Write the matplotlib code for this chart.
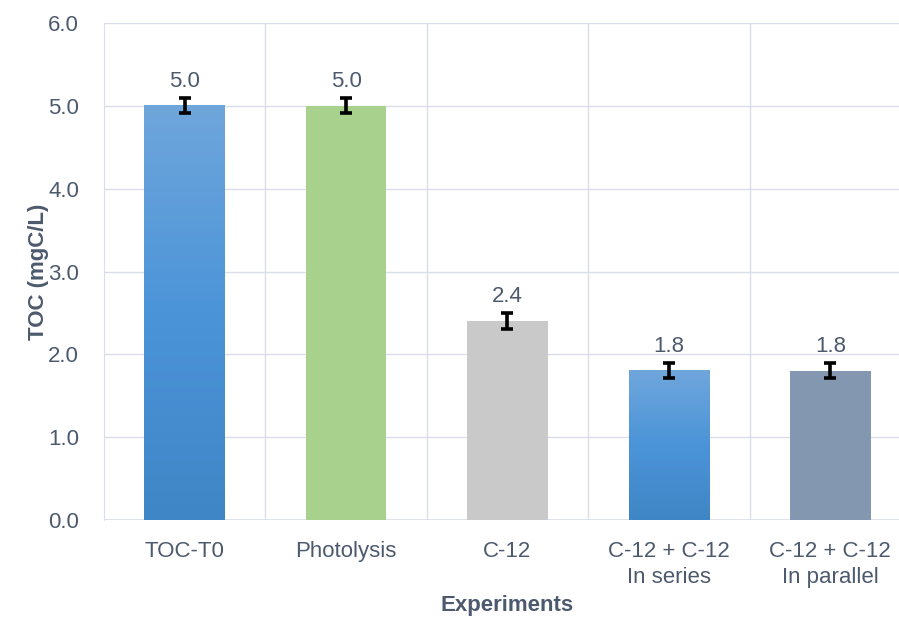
import matplotlib
matplotlib.use("Agg")
import matplotlib.pyplot as plt
import numpy as np
from matplotlib.colors import LinearSegmentedColormap

categories = ["TOC-T0", "Photolysis", "C-12", "C-12 + C-12\nIn series", "C-12 + C-12\nIn parallel"]
toc = [5.0, 5.0, 2.4, 1.8, 1.8]
err = [0.09, 0.09, 0.1, 0.09, 0.09]
labels = ["5.0", "5.0", "2.4", "1.8", "1.8"]

plt.rcParams["font.family"] = ["Liberation Sans", "DejaVu Sans"]
TXT = "#4d5a6e"
GRID = "#d9dee8"
FS = 16

fig = plt.figure(figsize=(8.99, 6.25), dpi=100)
ax = fig.add_axes([104 / 899, 1 - 520 / 625, (911 - 104) / 899, (520 - 23) / 625])

x = np.arange(len(categories))
w = 0.5
fills = ["grad", "#a9d18e", "#c9c9c9", "grad", "#8497b0"]
blue = LinearSegmentedColormap.from_list("b", ["#3f86c6", "#4b94d8", "#6fa6dc"])
grad = np.linspace(0, 1, 256).reshape(-1, 1)

for i, (v, f) in enumerate(zip(toc, fills)):
    if f == "grad":
        ax.imshow(grad, extent=(x[i] - w / 2, x[i] + w / 2, 0, v), origin="lower",
                  aspect="auto", cmap=blue, zorder=2)
    else:
        ax.bar(x[i], v, width=w, color=f, zorder=2)
    ax.text(x[i], v + 0.17, labels[i], ha="center", va="bottom", fontsize=FS, color=TXT, zorder=4)

ax.errorbar(x, toc, yerr=err, fmt="none", ecolor="black", elinewidth=2.6,
            capsize=4.5, capthick=2.6, zorder=3)

ax.set_xlim(-0.5, len(categories) - 0.5)
ax.set_ylim(0, 6)
ax.set_yticks(np.arange(0, 7, 1))
ax.set_yticklabels([f"{t:.1f}" for t in range(7)])
ax.set_xticks(x)
ax.set_xticklabels(categories, linespacing=1.3)
for xb in np.arange(0.5, len(categories) - 0.5, 1):
    ax.axvline(xb, color=GRID, lw=1, zorder=0)
ax.yaxis.grid(True, color=GRID, lw=1, zorder=0)
ax.set_axisbelow(True)
for s in ["top", "right", "bottom"]:
    ax.spines[s].set_visible(False)
ax.spines["left"].set_color(GRID)
ax.axhline(0, color=GRID, lw=1.2, zorder=1)
ax.tick_params(length=0, labelsize=FS, labelcolor=TXT)
ax.tick_params(axis="x", pad=15)
ax.tick_params(axis="y", pad=18)
ax.set_xlabel("Experiments", fontsize=FS, fontweight="bold", color=TXT, labelpad=5)
ax.set_ylabel("TOC (mgC/L)", fontsize=FS, fontweight="bold", color=TXT, labelpad=-1)

fig.savefig("out.png", dpi=100)
